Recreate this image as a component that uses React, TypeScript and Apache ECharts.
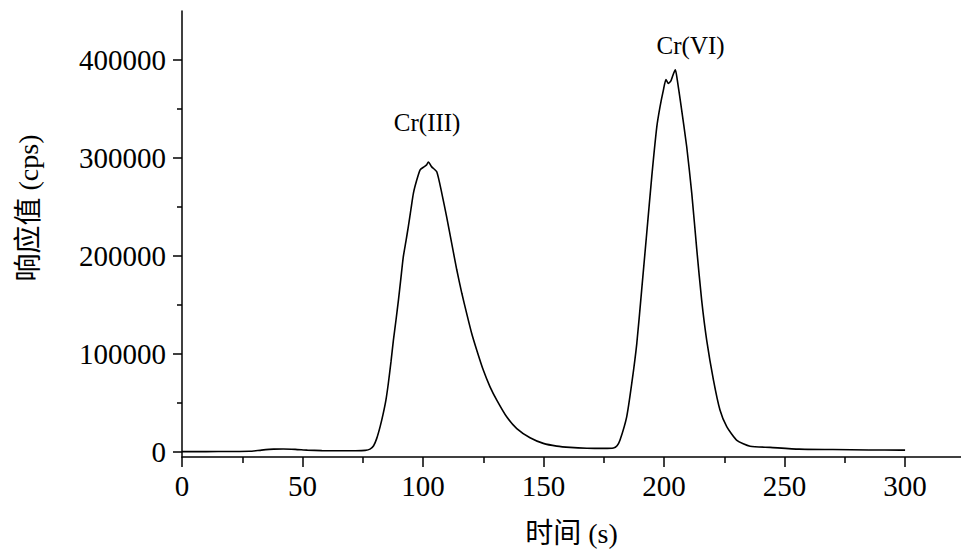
import React, { useEffect, useRef } from "react";
import * as echarts from "echarts";

// Time (s)
const times: number[] = [
  0, 10, 20, 28, 33, 38, 42, 47, 52, 58, 65, 72, 76, 78, 79.5, 80.8, 82.2, 83.5, 84.6, 85.6,
  86.7, 87.7, 88.8, 89.8, 90.8, 91.8, 92.9, 93.9, 95.0, 96.0, 97.4, 98.8, 100.4, 101.5, 102.2,
  103.6, 105.7, 107.8, 109.8, 111.9, 114.0, 116.1, 118.1, 120.2, 122.3, 125.0, 127.8, 130.6,
  134.7, 138.9, 144.4, 149.9, 155.5, 161, 168, 175, 179, 180.5, 181.7, 184.5, 186.6, 188.7,
  190.7, 192.8, 194.9, 197.0, 198.3, 199.7, 200.8, 201.8, 202.9, 203.9, 204.7, 205.5, 206.9,
  209.4, 211.5, 213.6, 215.6, 217.7, 220.5, 223.2, 226.0, 230.2, 235.7, 244, 256, 270, 285,
  298, 300,
];

// Response (cps)
const response: number[] = [
  500, 500, 600, 800, 2000, 3000, 3200, 2800, 2000, 1500, 1300, 1400, 1800, 3000, 6500, 14000,
  26000, 39500, 53000, 70000, 92000, 114000, 135000, 155000, 177000, 199000, 215000, 230000,
  248000, 264000, 277500, 288000, 291000, 293000, 296000, 291000, 286000, 264000, 240000,
  213000, 186000, 162000, 141500, 121000, 104000, 83700, 66600, 53000, 36000, 24000, 14600,
  8900, 6100, 4800, 4000, 3800, 4200, 6500, 12000, 36000, 70000, 111000, 165000, 223000,
  281000, 332000, 352000, 369000, 380000, 376000, 379000, 386000, 390000, 379500, 356000,
  311500, 264000, 206000, 155000, 114000, 73500, 43000, 26000, 12000, 6000, 4800, 3000, 2600,
  2200, 2000, 2000,
];

const xMajorTicks: number[] = [0, 50, 100, 150, 200, 250, 300];
const xMinorTicks: number[] = [25, 75, 125, 175, 225, 275];
const yMajorTicks: number[] = [0, 100000, 200000, 300000, 400000];
const yMinorTicks: number[] = [50000, 150000, 250000, 350000];

const peakLabels: string[] = ["Cr(III)", "Cr(VI)"];
const peakLabelX: number[] = [101.7, 211];
const peakLabelY: number[] = [336000, 415000];

const xName = "时间 (s)";
const yName = "响应值 (cps)";

const FONT = "'Liberation Serif', 'Times New Roman', 'Noto Sans CJK SC', serif";

export default function App() {
  const ref = useRef<HTMLDivElement>(null);

  useEffect(() => {
    if (!ref.current) return;
    const chart = echarts.init(ref.current, undefined, { renderer: "svg" });
    const data = times.map((t, i) => [t, response[i]]);
    const axisLineStyle = { color: "#000", width: 1.5 };

    chart.setOption({
      animation: false,
      backgroundColor: "#fff",
      grid: { left: 182, right: 0, top: 11, bottom: 103, containLabel: false },
      xAxis: [
        {
          type: "value",
          min: 0,
          max: 323.2,
          splitLine: { show: false },
          axisLine: { show: true, onZero: false, lineStyle: axisLineStyle },
          axisTick: {
            show: true,
            inside: false,
            length: 10,
            customValues: xMajorTicks,
            lineStyle: { color: "#000", width: 1.5 },
          },
          axisLabel: {
            show: true,
            customValues: xMajorTicks,
            formatter: (v: number) => String(v),
            margin: 14,
            color: "#000",
            fontSize: 29,
            fontFamily: FONT,
          },
          name: xName,
          nameLocation: "middle",
          nameGap: 62,
          nameTextStyle: { color: "#000", fontSize: 28, fontFamily: FONT },
        },
        {
          type: "value",
          position: "bottom",
          min: 0,
          max: 323.2,
          splitLine: { show: false },
          axisLine: { show: false, onZero: false },
          axisTick: {
            show: true,
            length: 6,
            customValues: xMinorTicks,
            lineStyle: { color: "#000", width: 1.5 },
          },
          axisLabel: { show: false },
        },
      ],
      yAxis: [
        {
          type: "value",
          min: -5000,
          max: 450000,
          splitLine: { show: false },
          axisLine: { show: true, onZero: false, lineStyle: axisLineStyle },
          axisTick: {
            show: true,
            length: 9,
            customValues: yMajorTicks,
            lineStyle: { color: "#000", width: 1.5 },
          },
          axisLabel: {
            show: true,
            customValues: yMajorTicks,
            formatter: (v: number) => String(v),
            margin: 16,
            color: "#000",
            fontSize: 29,
            fontFamily: FONT,
          },
        },
        {
          type: "value",
          position: "left",
          min: -5000,
          max: 450000,
          splitLine: { show: false },
          axisLine: { show: false, onZero: false },
          axisTick: {
            show: true,
            length: 5,
            customValues: yMinorTicks,
            lineStyle: { color: "#000", width: 1.5 },
          },
          axisLabel: { show: false },
        },
      ],
      graphic: [
        {
          type: "text",
          x: 28,
          y: 208,
          rotation: Math.PI / 2,
          style: {
            text: yName,
            fill: "#000",
            font: `28px ${FONT}`,
            textAlign: "center",
            textVerticalAlign: "middle",
          },
        },
      ],
      series: [
        {
          type: "line",
          xAxisIndex: 0,
          yAxisIndex: 0,
          data,
          showSymbol: false,
          symbol: "none",
          smooth: 0.2,
          lineStyle: { color: "#000", width: 1.6 },
          markPoint: {
            symbol: "circle",
            symbolSize: 1,
            itemStyle: { color: "rgba(0,0,0,0)" },
            label: {
              show: true,
              position: "inside",
              color: "#000",
              fontSize: 25,
              fontFamily: FONT,
              formatter: (p: any) => p.name,
            },
            data: peakLabels.map((name, i) => ({
              name,
              coord: [peakLabelX[i], peakLabelY[i]],
            })),
          },
        },
      ],
    });

    return () => chart.dispose();
  }, []);

  return (
    <div
      ref={ref}
      style={{ position: "fixed", left: 0, top: 0, width: 961, height: 560 }}
    />
  );
}
